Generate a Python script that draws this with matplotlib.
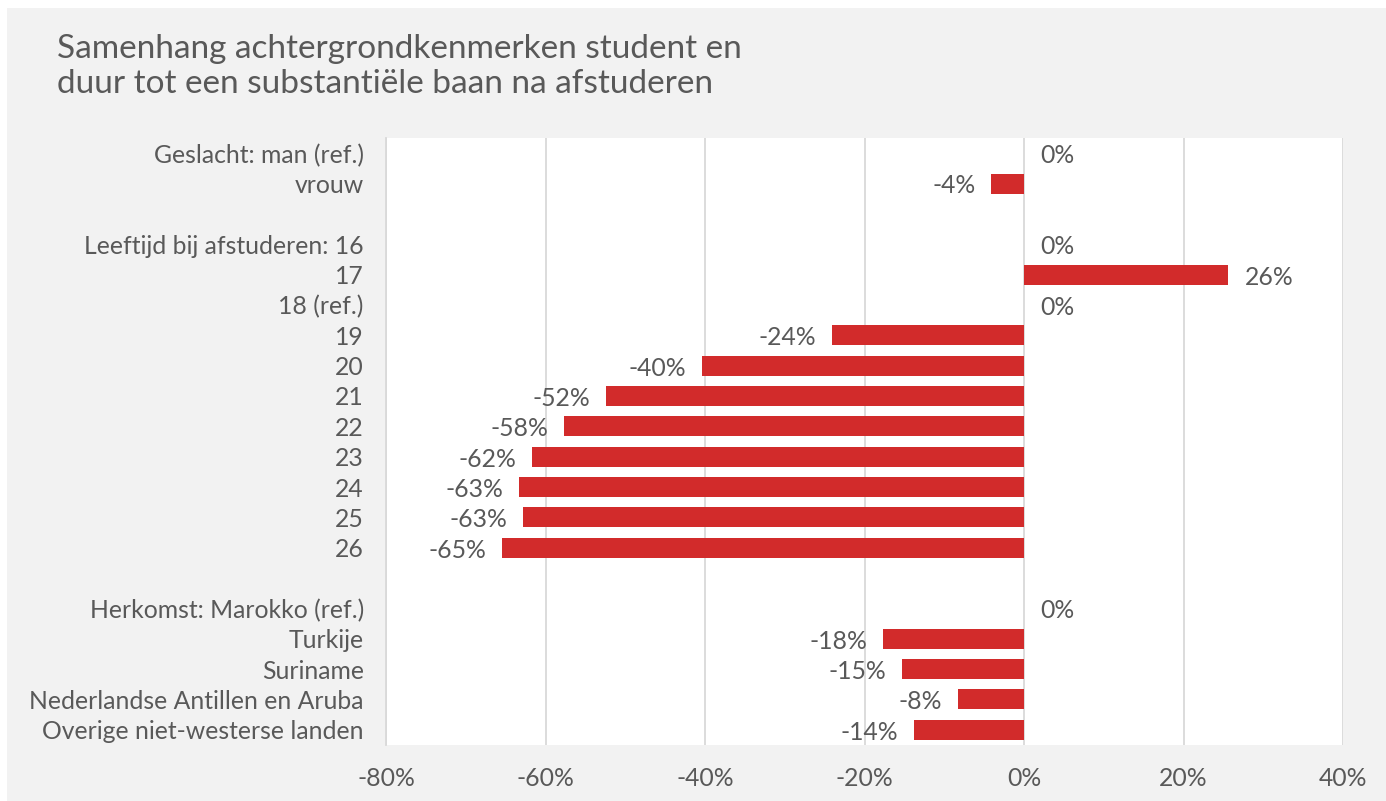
import matplotlib.pyplot as plt
from matplotlib.patches import Rectangle

# Samenhang achtergrondkenmerken en duur tot substantiele baan

categories = ['Geslacht: man (ref.)', 'vrouw', '',
              'Leeftijd bij afstuderen: 16', '17', '18 (ref.)', '19', '20', '21',
              '22', '23', '24', '25', '26', '',
              'Herkomst: Marokko (ref.)', 'Turkije', 'Suriname',
              'Nederlandse Antillen en Aruba', 'Overige niet-westerse landen']
values = [0.0, -4.1, None,
          0.0, 25.6, 0.0, -24.1, -40.4, -52.4,
          -57.7, -61.7, -63.3, -62.8, -65.4, None,
          0.0, -17.7, -15.3, -8.3, -13.8]
xticks = [-80, -60, -40, -20, 0, 20, 40]

plt.rcParams['font.family'] = ['Lato', 'DejaVu Sans']
text_col = '#595959'
bar_col = '#d22b2b'
fs = 17.8

fig = plt.figure(figsize=(13.86, 8.01), dpi=100, facecolor='white')
fig.patches.append(Rectangle((7 / 1386, 0), 1 - 7 / 1386, 1 - 8 / 801,
                             transform=fig.transFigure, facecolor='#f2f2f2',
                             edgecolor='none', zorder=-10))

ax = fig.add_axes([386 / 1386, 1 - 745 / 801, (1343 - 386) / 1386, (745 - 138) / 801])
ax.set_facecolor('white')

ypos = list(range(len(categories)))
for y, v in zip(ypos, values):
    if v is None:
        continue
    if v != 0:
        ax.barh(y, v, height=0.66, color=bar_col, zorder=3)
    lab = f'{round(v):.0f}%'
    if v < 0:
        ax.text(v - 2.0, y + 0.08, lab, ha='right', va='center', fontsize=fs, color=text_col, zorder=4)
    else:
        ax.text(v + 2.1, y + 0.08, lab, ha='left', va='center', fontsize=fs, color=text_col, zorder=4)

ax.set_xlim(-80, 40)
ax.set_ylim(len(categories) - 0.5, -0.5)
ax.set_xticks(xticks)
ax.set_xticklabels([f'{t}%' for t in xticks])
ax.set_yticks(ypos)
ax.set_yticklabels(categories)
ax.tick_params(axis='both', length=0, labelsize=fs, labelcolor=text_col)
ax.tick_params(axis='x', pad=16)
ax.tick_params(axis='y', pad=16)
ax.grid(axis='x', color='#d9d9d9', linewidth=1.3, zorder=0)
for s in ['top', 'right', 'bottom']:
    ax.spines[s].set_visible(False)
ax.spines['left'].set_color('#d9d9d9')
ax.spines['left'].set_linewidth(1.3)

fig.text(57 / 1386, 1 - 34 / 801, 'Samenhang achtergrondkenmerken student en\nduur tot een substantiële baan na afstuderen',
         ha='left', va='top', fontsize=24, color=text_col, linespacing=1.2)

fig.savefig('out.png', dpi=100, facecolor=fig.get_facecolor())
